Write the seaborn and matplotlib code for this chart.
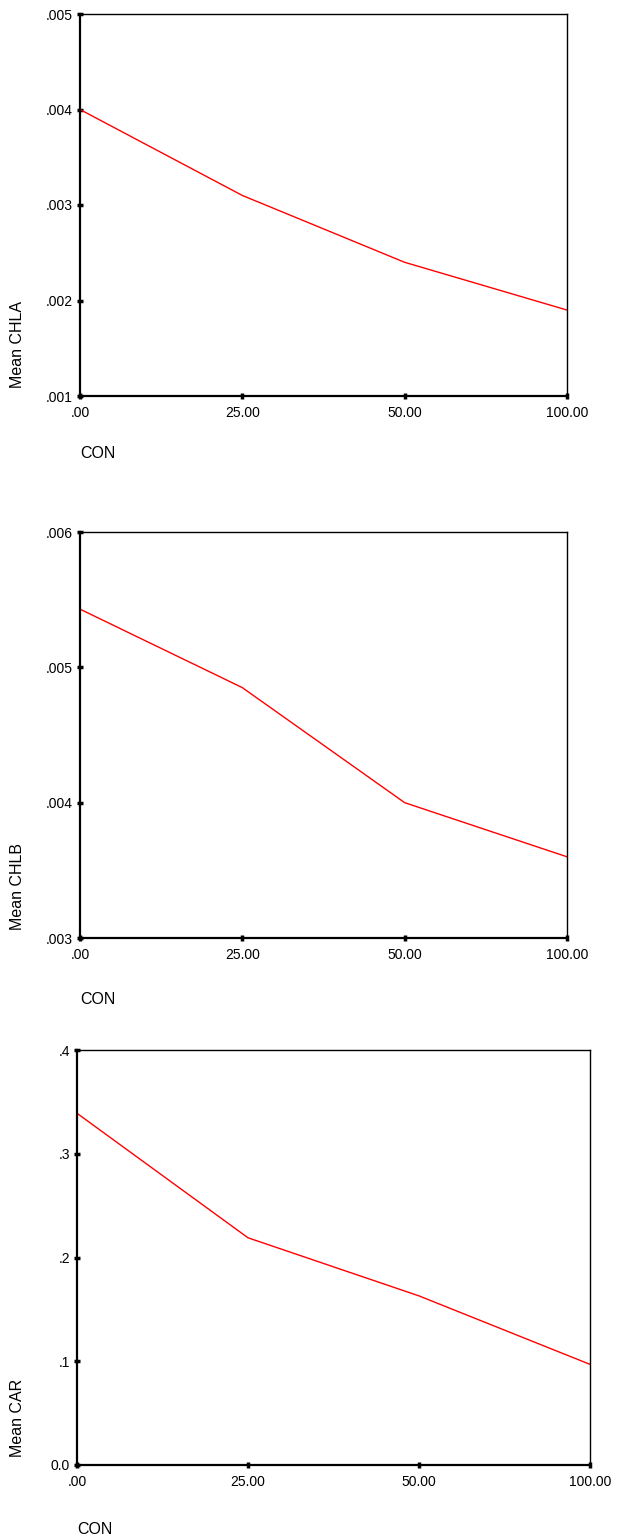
import matplotlib
matplotlib.use("Agg")
import matplotlib.pyplot as plt
import seaborn as sns
import pandas as pd
import numpy as np

sns.set_style("white")
plt.rcParams['font.family'] = ['Liberation Sans', 'DejaVu Sans']
plt.rcParams['text.color'] = 'black'

con_labels = [".00", "25.00", "50.00", "100.00"]
chla = [0.0040, 0.0031, 0.0024, 0.0019]
chlb = [0.00543, 0.00485, 0.0040, 0.0036]
car = [0.339, 0.219, 0.163, 0.097]

chla_ticks = [0.001, 0.002, 0.003, 0.004, 0.005]
chla_ticklabels = [".001", ".002", ".003", ".004", ".005"]
chlb_ticks = [0.003, 0.004, 0.005, 0.006]
chlb_ticklabels = [".003", ".004", ".005", ".006"]
car_ticks = [0.0, 0.1, 0.2, 0.3, 0.4]
car_ticklabels = ["0.0", ".1", ".2", ".3", ".4"]

W, H = 619, 1537
fig = plt.figure(figsize=(W / 100, H / 100), dpi=100)

panels = [
    dict(vals=chla, ylabel="Mean CHLA", ticks=chla_ticks, tl=chla_ticklabels,
         box=(80, 14, 567, 396), con_y=453),
    dict(vals=chlb, ylabel="Mean CHLB", ticks=chlb_ticks, tl=chlb_ticklabels,
         box=(80, 532, 567, 938), con_y=1000),
    dict(vals=car, ylabel="Mean CAR", ticks=car_ticks, tl=car_ticklabels,
         box=(77, 1050, 590, 1465), con_y=1530),
]

for p in panels:
    x0, y0, x1, y1 = p["box"]
    ax = fig.add_axes([x0 / W, 1 - y1 / H, (x1 - x0) / W, (y1 - y0) / H])
    df = pd.DataFrame({"pos": np.arange(len(con_labels)), "val": p["vals"]})
    sns.lineplot(data=df, x="pos", y="val", ax=ax, color="#ff0000", linewidth=1.0)
    ax.set_xlim(0, len(con_labels) - 1)
    ax.set_ylim(p["ticks"][0], p["ticks"][-1])
    ax.set_xticks(np.arange(len(con_labels)))
    ax.set_xticklabels(con_labels)
    ax.set_yticks(p["ticks"])
    ax.set_yticklabels(p["tl"])
    ax.set_xlabel("")
    ax.set_ylabel("")
    for side in ["top", "right"]:
        ax.spines[side].set_linewidth(1.0)
        ax.spines[side].set_color("black")
    for side in ["left", "bottom"]:
        ax.spines[side].set_linewidth(1.6)
        ax.spines[side].set_color("black")
    ax.tick_params(axis="both", which="major", direction="inout", length=4, width=2.5,
                   color="black", labelsize=10, labelcolor="black",
                   left=True, bottom=True, top=False, right=False)
    ax.tick_params(axis="y", pad=3)
    ax.tick_params(axis="x", pad=5)
    fig.text(18 / W, 1 - (y1 - 8) / H, p["ylabel"], rotation=90, ha="center", va="bottom",
             fontsize=11.5, color="black")
    fig.text(x0 / W, 1 - p["con_y"] / H, "CON", ha="left", va="center", fontsize=11.5,
             color="black")

fig.savefig("out.png", dpi=100)
